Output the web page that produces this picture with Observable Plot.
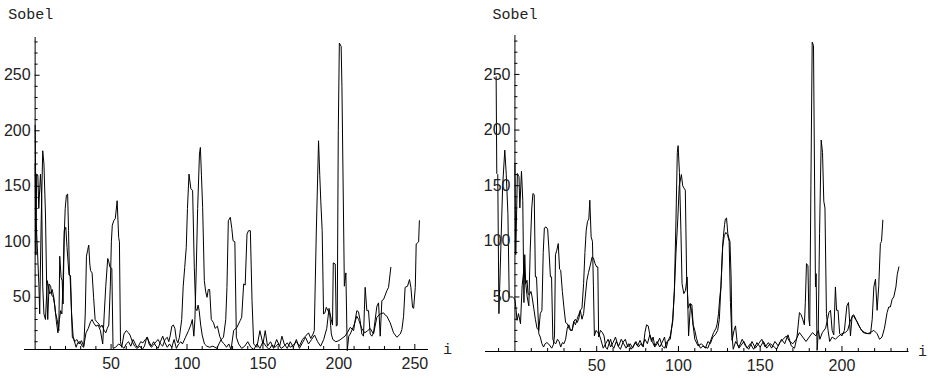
<!DOCTYPE html>
<html><head><meta charset="utf-8">
<script src="https://cdn.jsdelivr.net/npm/d3@7"></script>
<script src="https://cdn.jsdelivr.net/npm/@observablehq/plot@0.6"></script>
<style>
html,body{margin:0;padding:0;background:#fff;}
#row{display:flex;width:928px;height:378px;overflow:hidden;}
</style></head><body><div id="row"></div>
<script>
// ---- data: [i, Sobel] ----
const leftP = [[0,170],[0.5,88],[1,161],[1.8,160],[2.4,130],[3.5,161],[4.3,140],[5,60],[5.8,35],[6.8,30],[8,65],[9.6,53],[10.5,55],[11.2,57],[12.3,50],[13.4,36],[14.5,30],[15.6,20],[16.2,87],[17.1,68],[17.8,65],[18.4,44],[19.2,110],[20.2,113],[21,95],[22.3,70],[23,70],[24,35],[25,15],[26,10],[27.5,12],[29,8],[30.5,11],[32,6],[33.5,18],[35,22],[36.5,28],[37.5,30],[38.5,27],[40,24],[41.5,25],[43,20],[44.5,8],[45.5,35],[46.5,60],[47.8,85],[48.5,82],[49.3,77],[50.5,76],[51.3,4],[53,5],[55,8],[57,6],[58.5,4],[60,8],[61.5,10],[63,6],[64.5,12],[66,8],[67,5],[68,6],[69.5,10],[71,9],[72.5,12],[74,14],[75,8],[76.5,5],[78,7],[79.5,10],[81,12],[82.5,8],[84,6],[85.5,12],[87,14],[88,10],[89,16],[90,24],[91,25],[92,22],[93,12],[94,9],[95,14],[96.5,30],[97.5,60],[98.5,77],[99.5,95],[100.3,130],[101.3,161],[102.5,148],[103.7,146],[104.8,77],[105.7,40],[106.5,38],[107.3,43],[108,38],[109,25],[110,16],[111.5,8],[113,6],[115,5],[117,6],[119.7,4],[121,8],[122.5,12],[124,14],[125.5,30],[126.3,59],[127.2,119],[128.5,122],[129.5,112],[130.3,101],[131.5,100],[132.5,14],[134,8],[136,4],[138,6],[140,10],[142,5],[144,3],[146,8],[148,4],[150,10],[152,6],[154,3],[156,7],[158,5],[160,8],[162,4],[164,6],[166,9],[168,5],[170,7],[172,10],[174,6],[176,12],[178,15],[180,18],[181.5,13],[183,17],[183.8,20],[185.1,107],[186.6,191],[187.4,160],[188.1,136],[189,110],[189.9,35],[190.8,36],[191.7,41],[192.8,38],[194,35],[195,17],[196,12],[198,10],[200,11],[202,13],[204,15],[205.5,18],[207.5,23],[209.7,20],[210.8,30],[211.8,38],[212.9,37],[214,29],[215.1,17],[216.2,15],[217.3,59],[218.4,38],[219.5,38],[220.6,17],[221.7,15],[222.8,18],[225,42],[226.1,45],[227.2,15],[228.3,47],[229.4,48],[231.6,56],[232.7,59],[234.2,77]];

const leftQ = [[0,205],[0.6,120],[1.6,90],[2.5,60],[3,35],[4,120],[5,182],[5.8,170],[6.8,125],[7.6,60],[8.3,30],[9.2,62],[10.2,60],[11,52],[12,50],[13,42],[14,28],[15,18],[16,30],[16.8,38],[17.6,35],[18.3,60],[19,100],[19.8,130],[20.6,142],[21.4,143],[22,110],[22.6,70],[23.3,69],[24,35],[24.5,14],[25.5,12],[27,5],[28,9],[29.5,10],[31,6],[32,5],[33,35],[33.8,87],[34.5,92],[35.3,97],[36,80],[36.5,74],[37.5,72],[38.5,50],[39.5,30],[40.5,28],[42,26],[43,23],[44,25],[45.5,20],[46.5,18],[47.5,22],[48.5,25],[49.5,60],[50.2,100],[50.8,115],[51.8,119],[52.8,121],[54,137],[55,104],[55.5,100],[56.2,10],[57,5],[58.5,17],[60,20],[61.5,18],[62.5,16],[64,10],[65.5,6],[67,4],[69,6],[70.5,3],[72,6],[73.5,14],[75,10],[76.5,6],[78,10],[79.5,6],[81,4],[82.5,10],[84,15],[85.5,9],[87,5],[88.5,8],[90,5],[91.5,12],[93,4],[94.5,8],[96,10],[97,8],[99,14],[101,20],[102.5,25],[103.5,30],[104.5,15],[105.2,30],[106,70],[107,130],[108.2,179],[108.8,185],[109.5,160],[110.3,131],[111.4,65],[112.3,55],[113.2,50],[114,57],[114.9,57],[116,30],[117.5,27],[118.5,22],[120,24],[121.5,15],[123,10],[124.5,8],[126,5],[127.5,8],[129,3],[130.7,20],[132.9,23],[135,29],[136,32],[137.3,62],[138.3,61],[139.5,107],[140.5,110],[141.7,110],[142.8,47],[143.9,8],[146,5],[148,20],[150,8],[151.5,20],[153,6],[155,10],[157,4],[159,12],[161,6],[162.5,15],[164,8],[166,4],[168,10],[170,5],[172,12],[174,4],[176,9],[178,14],[180,8],[182,12],[184,16],[186,10],[188,6],[190,12],[192,22],[193.5,40],[195,30],[195.8,25],[196.3,81],[197.6,80],[198.3,24],[198.9,25],[199.6,200],[200.3,279],[201.5,276],[202,240],[203.6,60],[204,65],[204.6,72],[205.5,2],[206.5,15],[207.5,17],[209.7,24],[211.8,33],[213,30],[215,22],[217,18],[219,20],[220.6,22],[222.8,17],[225,32],[227.2,35],[229.4,36],[230.5,34],[231.6,33],[233.8,27],[236,18],[238.2,14],[240.4,17],[241.5,21],[242.6,33],[243.6,59],[245.2,60],[246.5,66],[247.4,59],[248.5,41],[249.2,40],[250.3,59],[250.9,98],[252.5,100],[253,119]];

const rightP = [[0,170],[0.5,88],[1.5,161],[2.5,158],[3,130],[4,163],[4.8,137],[5.5,45],[6,88],[6.6,62],[7.4,65],[8,53],[8.8,52],[9.8,55],[10.5,50],[11.5,40],[12.5,30],[13.5,22],[14.6,20],[15.5,35],[16.5,38],[17.3,90],[18,112],[19,113],[20,111],[20.7,95],[21.7,68],[22.4,68],[23.2,12],[24,9],[25,8],[26,12],[27,10],[28,5],[29,9],[30,8],[31,12],[32,22],[33,25],[34,20],[35,20],[36,28],[37,30],[38,27],[39,30],[40,38],[41,30],[42,35],[43,50],[44,65],[45,72],[46,78],[47.2,86],[48,85],[49,80],[50,77],[50.7,77],[51.2,14],[52.3,20],[53.5,18],[54.5,15],[55.5,5],[56.5,3],[57.5,8],[58.5,12],[59.5,6],[60.5,4],[62,10],[63.5,6],[65,12],[66.5,8],[68,4],[69.5,8],[71,3],[72.5,6],[74,10],[75.5,5],[77,8],[78.5,5],[79.5,18],[80.5,25],[81.5,24],[82.5,16],[83.5,10],[84.5,14],[85.5,6],[87,10],[88.5,5],[90,9],[91.5,14],[92.5,4],[93.5,10],[95,15],[96.5,28],[97.5,55],[98.5,90],[99.6,120],[100.5,150],[101.8,160],[102.6,150],[103.3,148],[104.2,146],[105,68],[106,40],[107,44],[108,38],[109,24],[110,12],[112,6],[114,8],[116,5],[118,4],[120,12],[121.5,18],[123,22],[123.7,26],[124.5,35],[125.3,50],[126,59],[127.2,100],[128.2,115],[128.7,120],[129.4,121],[130.2,107],[130.8,103],[131.5,100],[132.2,68],[132.8,11],[134,20],[134.9,24],[136,8],[137,4],[138,6],[140,10],[142,4],[144,8],[146,3],[148,9],[150,5],[152,10],[154,4],[156,8],[158,6],[160,3],[162,9],[164,12],[166,15],[168,10],[170,8],[172,12],[174,18],[176,14],[178,10],[180,14],[182,18],[184,15],[185.5,20],[186.3,107],[187.3,191],[188.1,180],[188.9,136],[189.6,130],[190.5,35],[191.5,20],[192.5,10],[194,14],[196,12],[198,15],[200,17],[202,18],[203.5,20],[205,28],[206.2,32],[207.2,33],[208.2,30],[209.2,28],[211.2,22],[213,18],[215.4,17],[217.4,18],[219.5,20],[221.5,17],[223,12],[224.5,14],[226,22],[227.6,36],[228.6,41],[229.6,41],[230.7,48],[231.7,50],[233,59],[233.8,70],[234.8,77]];

const rightQ = [[-11.5,248],[-11.1,161],[-10.5,160],[-9.8,35],[-8.5,100],[-7.5,150],[-6.2,182],[-5.3,160],[-4.3,125],[-3.5,50],[-2.7,50],[-1.5,50],[0,48],[0.6,40],[1.3,29],[2.2,35],[3.4,26],[4.4,60],[5.4,74],[6.4,65],[7.5,50],[8.5,42],[9.3,90],[10.3,130],[11,143],[11.8,142],[12.5,68],[13.2,68],[14.6,17],[15.5,14],[16.5,8],[17.5,5],[18.5,8],[19.5,9],[20.5,8],[21.5,6],[22.5,4],[23.5,7],[24.2,15],[24.8,88],[25.6,92],[26.5,98],[27.3,75],[28,74],[29,55],[30,40],[31,27],[32,26],[33,22],[34,20],[35,20],[36,28],[37,25],[38,30],[39,34],[40,38],[41,40],[42,62],[42.8,90],[43.6,110],[44.4,118],[45.2,120],[45.8,137],[46.6,104],[47.4,100],[48,60],[48.6,15],[49.6,20],[50.6,18],[51.6,16],[52.5,12],[54,4],[55.5,8],[57,12],[58.5,5],[60,9],[61.5,14],[63,6],[64.5,3],[66,9],[67.5,12],[69,5],[70.5,8],[72,4],[73.5,9],[75,6],[76.5,11],[78,6],[79.5,12],[81,8],[82.5,16],[84,10],[85.5,5],[87,8],[88.5,13],[90,6],[91.5,4],[93,10],[95,12],[96.5,30],[97.5,55],[98.5,120],[99.3,180],[99.8,186],[100.6,162],[101.5,110],[102.2,62],[103.3,53],[104.3,56],[105.3,68],[106.2,15],[107.4,44],[108.2,43],[109,25],[110,20],[111,13],[112,8],[113.5,4],[115,6],[116.5,4],[118,10],[119.5,8],[121,14],[122.5,16],[124,20],[125,30],[126,60],[127,95],[128,105],[129,108],[130,106],[131,100],[131.8,45],[132.5,20],[133.5,3],[135,10],[137,5],[139,12],[141,6],[143,3],[145,10],[147,4],[149,8],[151,12],[153,5],[155,9],[157,4],[159,10],[161,6],[163,12],[165,8],[167,16],[169,6],[171,4],[172.5,14],[174,36],[175,34],[176,30],[177,25],[177.6,45],[178.3,80],[179.2,78],[179.8,30],[180.3,24],[181,150],[181.8,279],[182.6,276],[183,200],[183.8,59],[184.2,71],[184.8,2],[185.6,20],[186.5,12],[188,18],[190,22],[191.2,30],[192,36],[193,38],[194,20],[195,16],[196,59],[196.7,38],[197.6,38],[198.6,17],[200,15],[201.5,20],[203,42],[204,45],[205.2,15],[206.2,33],[207.2,34],[208.5,30],[210,25],[212,20],[214,18],[216,17],[217.5,17],[218.5,30],[219.5,59],[220.5,66],[221.5,38],[222.5,60],[223.5,98],[224.2,100],[225,119]];

const xTickLabelsLeft = [50, 100, 150, 200, 250];
const xTickLabelsRight = [50, 100, 150, 200];
const yTickLabels = [50, 100, 150, 200, 250];
const xMinorLeft = d3.range(10, 260, 10);
const xMinorRight = [-10].concat(d3.range(10, 241, 10));
const yMinor = d3.range(10, 281, 10);
const yTitle = "Sobel";
const xTitle = "i";

const tickFont = "Liberation Sans, Arial, sans-serif";
const monoFont = "Liberation Mono, DejaVu Sans Mono, monospace";

function panel(cfg) {
  const [x0, x1] = cfg.xDomain, [y0, y1] = cfg.yDomain;
  const majX = cfg.xLabels, majY = yTickLabels;
  const minX = cfg.xMinor.filter(d => !majX.includes(d));
  const minY = yMinor.filter(d => !majY.includes(d));
  return Plot.plot({
    width: 464, height: 378,
    marginLeft: cfg.marginLeft, marginRight: cfg.marginRight,
    marginTop: cfg.marginTop, marginBottom: cfg.marginBottom,
    x: {domain: cfg.xDomain, axis: null},
    y: {domain: cfg.yDomain, axis: null},
    style: {background: "white", overflow: "visible"},
    marks: [
      Plot.line(cfg.a, {x: d => d[0], y: d => d[1], stroke: "black", strokeWidth: 1}),
      Plot.line(cfg.b, {x: d => d[0], y: d => d[1], stroke: "black", strokeWidth: 1}),
      // axes
      Plot.ruleY([y0], {x1: x0, x2: x1, stroke: "black", strokeWidth: 1}),
      Plot.ruleX([0], {y1: y0, y2: y1, stroke: "black", strokeWidth: 1}),
      // ticks (pointing into the plot)
      Plot.ruleX(majX, {x: d => d, y1: y0, y2: y0, insetBottom: 5, stroke: "black"}),
      Plot.ruleX(minX, {x: d => d, y1: y0, y2: y0, insetBottom: 3, stroke: "black"}),
      Plot.ruleY(majY, {y: d => d, x1: 0, x2: 0, insetRight: -5, stroke: "black"}),
      Plot.ruleY(minY, {y: d => d, x1: 0, x2: 0, insetRight: -3, stroke: "black"}),
      // tick labels
      Plot.text(majX, {x: d => d, y: y0, text: d => String(d), dy: 14, textAnchor: "middle",
        fontSize: 16, fontFamily: tickFont, fill: "#222"}),
      Plot.text(majY, {x: 0, y: d => d, text: d => String(d), dx: -4.5, textAnchor: "end",
        fontSize: 16, fontFamily: tickFont, fill: "#222"}),
      // axis titles
      Plot.text([yTitle], {x: 0, y: y1, text: d => d, textAnchor: "start", lineAnchor: "bottom",
        dx: cfg.yTitleDx, dy: cfg.yTitleDy, fontSize: 15, fontFamily: monoFont, fill: "#222"}),
      Plot.text([xTitle], {x: x1, y: y0, text: d => d, textAnchor: "middle", lineAnchor: "bottom",
        dx: cfg.xTitleDx, dy: 4, fontSize: 15, fontFamily: monoFont, fill: "#222"})
    ]
  });
}

const row = document.getElementById("row");
row.appendChild(panel({
  a: leftP, b: leftQ,
  xDomain: [-7, 259], yDomain: [3, 284],
  marginLeft: 24, marginRight: 36, marginTop: 37, marginBottom: 29,
  xLabels: xTickLabelsLeft, xMinor: xMinorLeft,
  yTitleDx: -27, yTitleDy: -19, xTitleDx: 19
}));
row.appendChild(panel({
  a: rightP, b: rightQ,
  xDomain: [-18, 241], yDomain: [1, 285],
  marginLeft: 21, marginRight: 19.5, marginTop: 35, marginBottom: 27,
  xLabels: xTickLabelsRight, xMinor: xMinorRight,
  yTitleDx: -22.5, yTitleDy: -17, xTitleDx: 13.5
}));
</script>
</body></html>
